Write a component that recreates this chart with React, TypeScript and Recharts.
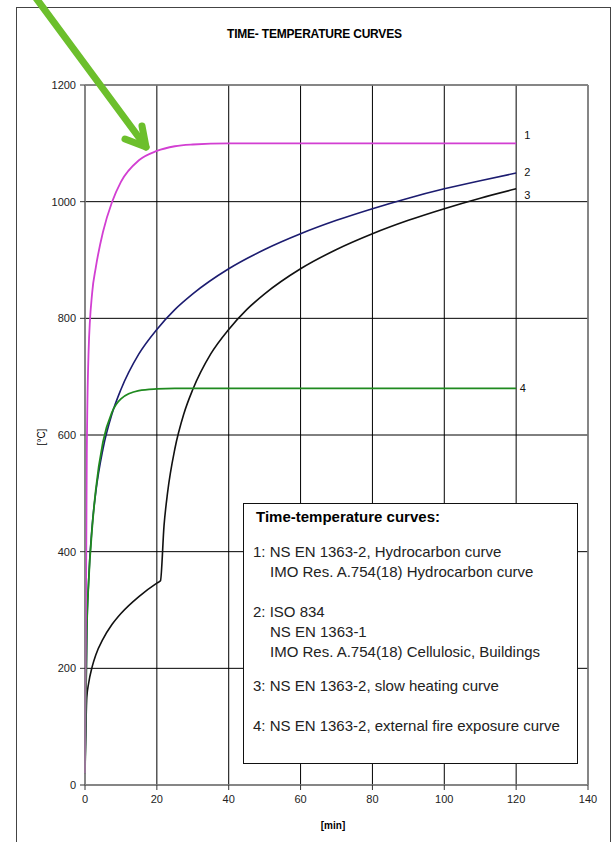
import { LineChart, Line, XAxis, YAxis, CartesianGrid, ReferenceLine } from "recharts";

// time in minutes, temperature in °C
const TIMES = [0, 0.5, 1, 2, 3, 5, 7.5, 10, 15, 20, 25, 30, 40, 50, 60, 70, 80, 90, 100, 110, 120];
const HYDROCARBON = [20, 568, 743, 844, 887, 948, 999, 1034, 1071, 1087, 1095, 1098, 1100, 1100, 1100, 1100, 1100, 1100, 1100, 1100, 1100];
const ISO834 = [20, 261, 349, 445, 502, 576, 636, 678, 739, 781, 815, 842, 885, 918, 945, 968, 988, 1006, 1022, 1036, 1049];
const EXTERNAL = [20, 263, 346, 441, 506, 588, 639, 662, 676, 679, 680, 680, 680, 680, 680, 680, 680, 680, 680, 680, 680];

const SLOW_TIMES = [0, 0.5, 1, 2, 3, 5, 7.5, 10, 15, 20, 21, 22, 23, 25, 27.5, 30, 35, 40, 45, 50, 60, 70, 80, 90, 100, 110, 120];
const SLOW = [20, 150, 174, 203, 223, 250, 275, 294, 323, 346, 350, 445, 502, 576, 636, 678, 739, 781, 815, 842, 885, 918, 945, 968, 988, 1006, 1022];

const X_TICKS = [0, 20, 40, 60, 80, 100, 120, 140];
const Y_TICKS = [0, 200, 400, 600, 800, 1000, 1200];

const LEGEND_LINES = [
  { text: "1: NS EN 1363-2, Hydrocarbon curve", left: 253, center: 551.5 },
  { text: "IMO Res. A.754(18) Hydrocarbon curve", left: 270, center: 571 },
  { text: "2: ISO 834", left: 253, center: 611 },
  { text: "NS EN 1363-1", left: 270, center: 631.5 },
  { text: "IMO Res. A.754(18) Cellulosic, Buildings", left: 270, center: 651.5 },
  { text: "3: NS EN 1363-2, slow heating curve", left: 253, center: 685 },
  { text: "4: NS EN 1363-2, external fire exposure curve", left: 253, center: 725 },
];

const FONT = '"Liberation Sans", Arial, sans-serif';

function toPoints(times: number[], temps: number[]) {
  return times.map((t, i) => ({ t, temp: temps[i] }));
}

function endLabel(text: string, count: number, dx: number, dy: number) {
  return (props: any) => {
    if (props.index !== count - 1) return <g />;
    return (
      <text x={props.x + dx} y={props.y + dy} fontSize={11} fill="#111" fontFamily={FONT} dominantBaseline="middle">
        {text}
      </text>
    );
  };
}

export default function App() {
  const tick = { fontSize: 11, fill: "#222", fontFamily: FONT };
  return (
    <div
      style={{
        position: "absolute",
        left: 0,
        top: 0,
        width: 615,
        height: 842,
        overflow: "hidden",
        background: "#fff",
        fontFamily: FONT,
      }}
    >
      <div
        style={{
          position: "absolute",
          left: 16,
          top: 7,
          width: 595,
          height: 900,
          border: "1px solid #444",
          boxSizing: "border-box",
        }}
      />
      <div style={{ position: "absolute", left: 227, top: 27, fontSize: 12, fontWeight: "bold", whiteSpace: "nowrap", letterSpacing: -0.2 }}>
        TIME- TEMPERATURE CURVES
      </div>

      <div style={{ position: "absolute", left: 0, top: 0 }}>
        <LineChart width={615} height={842} margin={{ top: 85, right: 27, left: 45, bottom: 27 }}>
          <CartesianGrid stroke="#000" strokeWidth={1} />
          <XAxis
            dataKey="t"
            type="number"
            domain={[0, 140]}
            ticks={X_TICKS}
            height={30}
            tickSize={5}
            tickMargin={5}
            tick={tick}
            axisLine={{ stroke: "#888", strokeWidth: 1.5 }}
            tickLine={{ stroke: "#333" }}
            allowDuplicatedCategory={false}
          />
          <YAxis
            type="number"
            domain={[0, 1200]}
            ticks={Y_TICKS}
            width={40}
            tickSize={5}
            tickMargin={4}
            tick={tick}
            axisLine={{ stroke: "#888", strokeWidth: 1.5 }}
            tickLine={{ stroke: "#333" }}
          />
          <ReferenceLine y={1200} stroke="#888" strokeWidth={1.5} />
          <ReferenceLine x={140} stroke="#888" strokeWidth={1.5} />
          <Line
            data={toPoints(SLOW_TIMES, SLOW)}
            dataKey="temp"
            type="monotone"
            stroke="#111"
            strokeWidth={1.6}
            dot={false}
            isAnimationActive={false}
            label={endLabel("3", SLOW_TIMES.length, 8, 7)}
          />
          <Line
            data={toPoints(TIMES, ISO834)}
            dataKey="temp"
            type="monotone"
            stroke="#1c1c70"
            strokeWidth={1.6}
            dot={false}
            isAnimationActive={false}
            label={endLabel("2", TIMES.length, 8, 0)}
          />
          <Line
            data={toPoints(TIMES, EXTERNAL)}
            dataKey="temp"
            type="monotone"
            stroke="#1f8a1f"
            strokeWidth={1.8}
            dot={false}
            isAnimationActive={false}
            label={endLabel("4", TIMES.length, 3.5, 1)}
          />
          <Line
            data={toPoints(TIMES, HYDROCARBON)}
            dataKey="temp"
            type="monotone"
            stroke="#d23fd2"
            strokeWidth={1.8}
            dot={false}
            isAnimationActive={false}
            label={endLabel("1", TIMES.length, 8, -7)}
          />
        </LineChart>
      </div>

      <div
        style={{
          position: "absolute",
          left: 41,
          top: 437,
          fontSize: 10,
          transform: "translate(-50%, -50%) rotate(-90deg)",
          whiteSpace: "nowrap",
        }}
      >
        [°C]
      </div>
      <div
        style={{
          position: "absolute",
          left: 333,
          top: 825,
          fontSize: 10,
          fontWeight: "bold",
          transform: "translate(-50%, -50%)",
          whiteSpace: "nowrap",
        }}
      >
        [min]
      </div>

      <div
        style={{
          position: "absolute",
          left: 243,
          top: 503,
          width: 335,
          height: 261,
          border: "1px solid #111",
          background: "#fff",
          boxSizing: "border-box",
        }}
      />
      <div style={{ position: "absolute", left: 256, top: 508, fontSize: 15, lineHeight: "17px", fontWeight: "bold", whiteSpace: "nowrap" }}>
        Time-temperature curves:
      </div>
      {LEGEND_LINES.map((l) => (
        <div
          key={l.text}
          style={{ position: "absolute", left: l.left, top: l.center - 8.5, fontSize: 15, lineHeight: "17px", color: "#222", whiteSpace: "nowrap" }}
        >
          {l.text}
        </div>
      ))}

      <svg width={615} height={842} style={{ position: "absolute", left: 0, top: 0, pointerEvents: "none" }}>
        <g stroke="#6cbf2c" strokeWidth={7} strokeLinecap="round" strokeLinejoin="round" fill="none">
          <path d="M 33 -6 L 146 147" />
          <path d="M 125 139 L 146 147 L 142 126" />
        </g>
      </svg>
    </div>
  );
}
